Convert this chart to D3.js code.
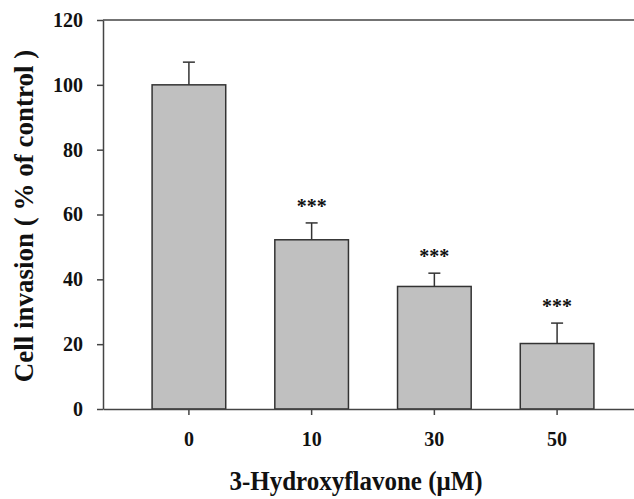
<!DOCTYPE html>
<html>
<head>
<meta charset="utf-8">
<script src="https://cdn.jsdelivr.net/npm/d3@7"></script>
<style>
  body { margin: 0; background: #fff; }
  text { font-family: "Liberation Serif", "Times New Roman", serif; font-weight: bold; fill: #111; }
</style>
</head>
<body>
<div id="chart"></div>
<script>
// data
var doses = ["0", "10", "30", "50"];
var invasion = [100, 52.2, 37.8, 20.2];
var errUp = [7, 5.2, 4.1, 6.3];
var signif = ["", "***", "***", "***"];
var yTicks = [0, 20, 40, 60, 80, 100, 120];

var width = 634,
    height = 499,
    svg = d3.select("#chart").append("svg")
      .attr("width", width)
      .attr("height", height);

// scales
var xScale = d3.scaleBand().domain(doses).range([103, 643]).padding(0.4),
    yScale = d3.scaleLinear().domain([0, 120]).range([409, 20]);

var axisColor = "#444";

// top border line
svg.append("line")
  .attr("x1", 103).attr("x2", 643)
  .attr("y1", yScale(120)).attr("y2", yScale(120))
  .attr("stroke", axisColor).attr("stroke-width", 1.5);

// bars
svg.selectAll("rect.bar")
  .data(doses)
  .enter().append("rect")
  .attr("class", "bar")
  .attr("x", function(d) { return xScale(d); })
  .attr("width", xScale.bandwidth())
  .attr("y", function(d, i) { return yScale(invasion[i]); })
  .attr("height", function(d, i) { return yScale(0) - yScale(invasion[i]); })
  .attr("fill", "#c0c0c0")
  .attr("stroke", "#333")
  .attr("stroke-width", 1.5);

// error bars (upper only)
var cx = function(d) { return xScale(d) + xScale.bandwidth() / 2; };
svg.selectAll("line.err")
  .data(doses)
  .enter().append("line")
  .attr("class", "err")
  .attr("x1", cx).attr("x2", cx)
  .attr("y1", function(d, i) { return yScale(invasion[i]); })
  .attr("y2", function(d, i) { return yScale(invasion[i] + errUp[i]); })
  .attr("stroke", "#333").attr("stroke-width", 1.5);
svg.selectAll("line.cap")
  .data(doses)
  .enter().append("line")
  .attr("class", "cap")
  .attr("x1", function(d) { return cx(d) - 6; })
  .attr("x2", function(d) { return cx(d) + 6; })
  .attr("y1", function(d, i) { return yScale(invasion[i] + errUp[i]); })
  .attr("y2", function(d, i) { return yScale(invasion[i] + errUp[i]); })
  .attr("stroke", "#333").attr("stroke-width", 1.5);

// significance stars
svg.selectAll("text.star")
  .data(doses)
  .enter().append("text")
  .attr("class", "star")
  .attr("x", cx)
  .attr("y", function(d, i) { return yScale(invasion[i] + errUp[i]) - 10; })
  .attr("text-anchor", "middle")
  .attr("font-size", 20)
  .text(function(d, i) { return signif[i]; });

// axes
var yAxis = svg.append("g")
  .attr("transform", "translate(103,0)")
  .call(d3.axisLeft(yScale).tickValues(yTicks).tickSize(6).tickSizeOuter(0).tickPadding(14));
var xAxis = svg.append("g")
  .attr("transform", "translate(0,409)")
  .call(d3.axisBottom(xScale).tickSize(6).tickSizeOuter(0).tickPadding(17));

[yAxis, xAxis].forEach(function(g) {
  g.select(".domain").attr("stroke", axisColor).attr("stroke-width", 1.5);
  g.selectAll(".tick line").attr("stroke", axisColor).attr("stroke-width", 1.5);
  g.selectAll(".tick text")
    .attr("font-size", 20)
    .attr("fill", "#111");
});

// axis titles
svg.append("text")
  .attr("transform", "translate(356,490) scale(1,1.08)")
  .attr("text-anchor", "middle")
  .attr("font-size", 25)
  .text("3-Hydroxyflavone (\u03bcM)");

svg.append("text")
  .attr("transform", "translate(33,216) rotate(-90)")
  .attr("text-anchor", "middle")
  .attr("font-size", 27)
  .text("Cell invasion ( % of control )");
</script>
</body>
</html>
